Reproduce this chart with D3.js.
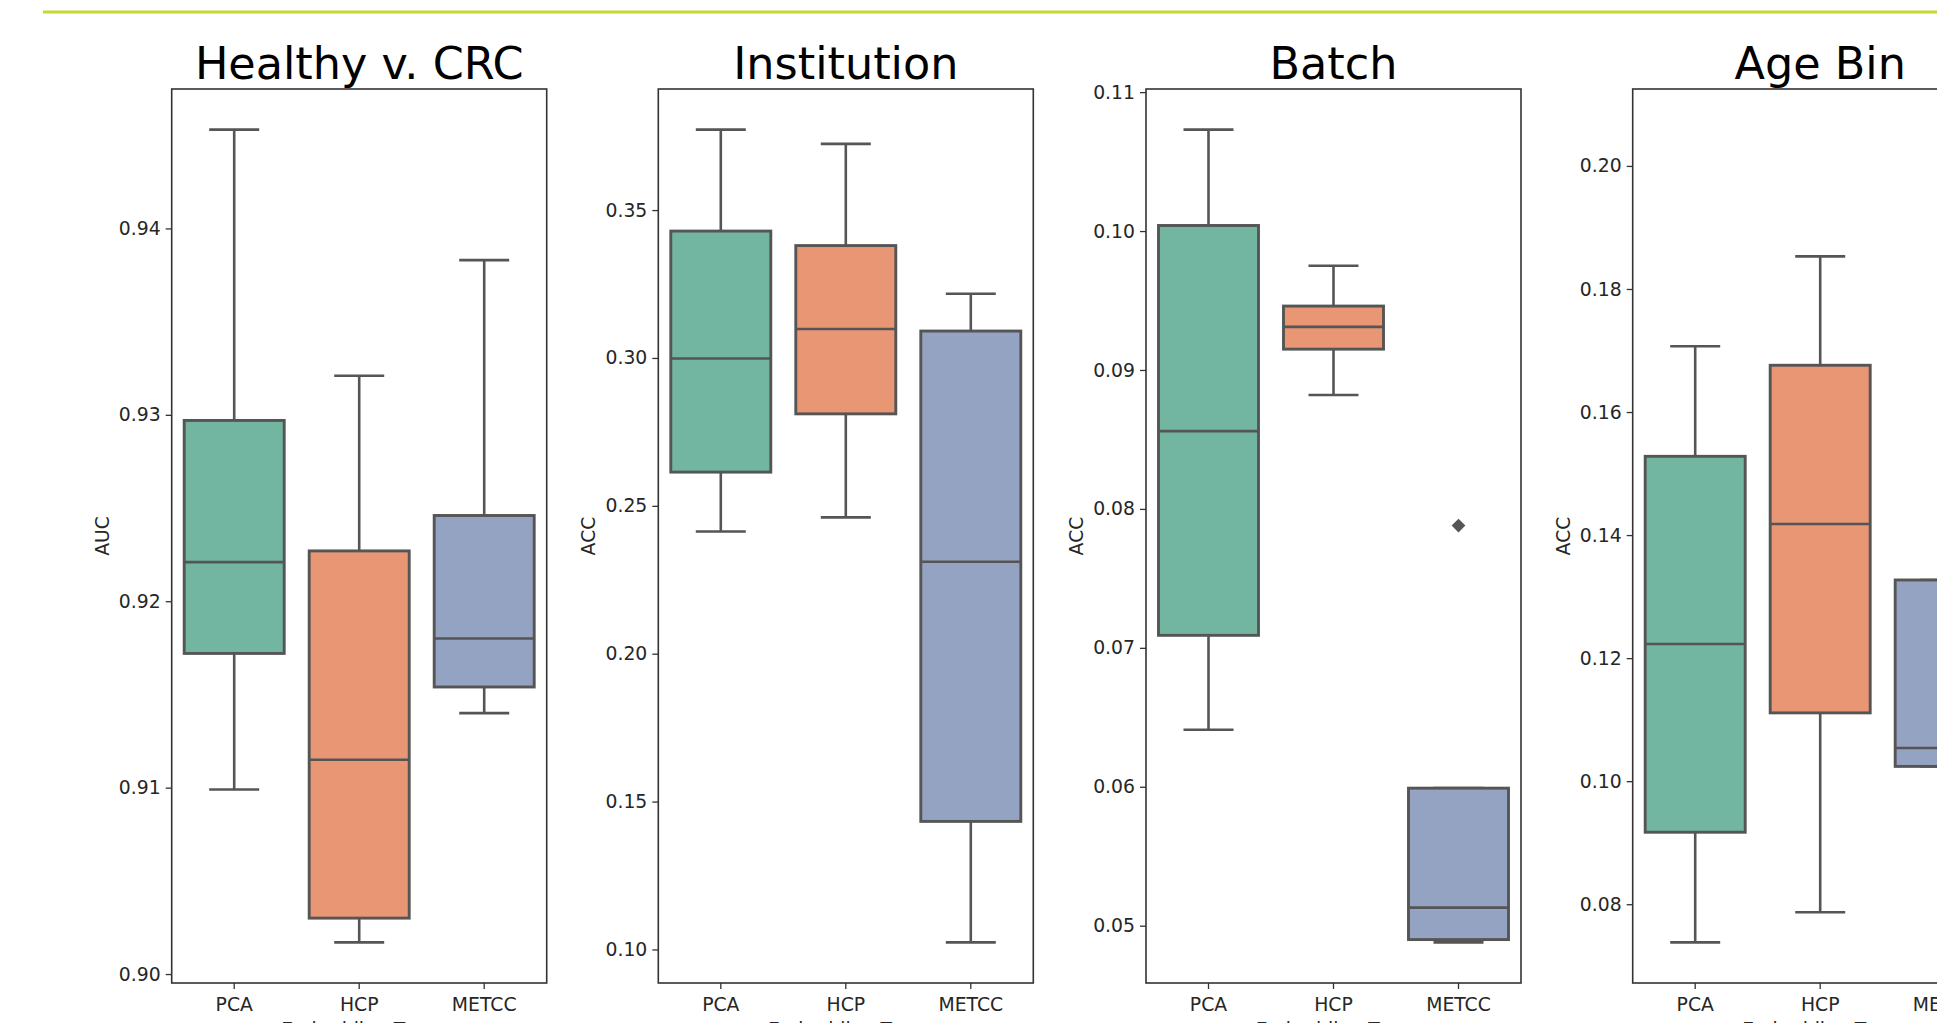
<!DOCTYPE html>
<html>
<head>
<meta charset="utf-8">
<script src="https://cdn.jsdelivr.net/npm/d3@7"></script>
<style>
  html, body { margin: 0; padding: 0; background: #fff; overflow: hidden; }
  svg { display: block; font-family: "DejaVu Sans", sans-serif; }
</style>
</head>
<body>
<svg id="chart" width="1937" height="1023"></svg>
<script>
// ---- data ----
const categories = ["PCA", "HCP", "METCC"];
const panelTitles = ["Healthy v. CRC", "Institution", "Batch", "Age Bin"];
const yLabels = ["AUC", "ACC", "ACC", "ACC"];
const xLabel = "Embedding Type";

// box stats per panel: [whiskerLow, q1, median, q3, whiskerHigh] for PCA, HCP, METCC
const healthyStats = [
  [0.9099, 0.9172, 0.9221, 0.9297, 0.9453],
  [0.9017, 0.9030, 0.9115, 0.9227, 0.9321],
  [0.9140, 0.9154, 0.9180, 0.9246, 0.9383]
];
const institutionStats = [
  [0.2413, 0.2614, 0.2998, 0.3429, 0.3772],
  [0.2461, 0.2811, 0.3098, 0.3380, 0.3724],
  [0.1024, 0.1433, 0.2311, 0.3091, 0.3217]
];
const batchStats = [
  [0.0641, 0.0709, 0.0856, 0.1004, 0.1073],
  [0.0882, 0.0915, 0.0931, 0.0946, 0.0975],
  [0.0488, 0.0490, 0.0513, 0.0599, 0.0599]
];
const ageStats = [
  [0.0738, 0.0917, 0.1223, 0.1528, 0.1707],
  [0.0787, 0.1111, 0.1418, 0.1676, 0.1853],
  [0.1024, 0.1024, 0.1054, 0.1327, 0.1327]
];
// outliers per panel: [categoryIndex, value]
const healthyOutliers = [];
const institutionOutliers = [];
const batchOutliers = [[2, 0.0788]];
const ageOutliers = [[2, 0.2059]];

const healthyTicks = [0.90, 0.91, 0.92, 0.93, 0.94];
const institutionTicks = [0.10, 0.15, 0.20, 0.25, 0.30, 0.35];
const batchTicks = [0.05, 0.06, 0.07, 0.08, 0.09, 0.10, 0.11];
const ageTicks = [0.08, 0.10, 0.12, 0.14, 0.16, 0.18, 0.20];

const colors = ["#72b6a1", "#e99675", "#95a3c3"];

// ---- layout ----
const svg = d3.select("#chart");
const panelLefts = [171.7, 658.3, 1146, 1632.7];
const panelW = 375, plotTop = 89, plotBottom = 983;
const lineColor = "#555555";
const stats = [healthyStats, institutionStats, batchStats, ageStats];
const outliers = [healthyOutliers, institutionOutliers, batchOutliers, ageOutliers];
const ticks = [healthyTicks, institutionTicks, batchTicks, ageTicks];

// top accent line
svg.append("line").attr("x1", 43).attr("x2", 1937).attr("y1", 12).attr("y2", 12)
  .attr("stroke", "#c6d82f").attr("stroke-width", 3);

stats.forEach((st, p) => {
  const g = svg.append("g").attr("transform", `translate(${panelLefts[p]},0)`);
  const allVals = st.flat().concat(outliers[p].map(o => o[1]));
  const mn = d3.min(allVals), mx = d3.max(allVals), pad = (mx - mn) * 0.05;
  const y = d3.scaleLinear().domain([mn - pad, mx + pad]).range([plotBottom, plotTop]);
  const x = d3.scaleBand().domain(categories).range([0, panelW])
    .paddingInner(0.2).paddingOuter(0.1);
  const bw = x.bandwidth();

  // boxes
  categories.forEach((c, i) => {
    const [wl, q1, med, q3, wh] = st[i];
    const cx = x(c) + bw / 2;
    const bg = g.append("g");
    bg.append("line").attr("x1", cx).attr("x2", cx).attr("y1", y(q3)).attr("y2", y(wh))
      .attr("stroke", lineColor).attr("stroke-width", 2.6);
    bg.append("line").attr("x1", cx).attr("x2", cx).attr("y1", y(q1)).attr("y2", y(wl))
      .attr("stroke", lineColor).attr("stroke-width", 2.6);
    bg.append("line").attr("x1", cx - bw / 4).attr("x2", cx + bw / 4).attr("y1", y(wh)).attr("y2", y(wh))
      .attr("stroke", lineColor).attr("stroke-width", 2.6);
    bg.append("line").attr("x1", cx - bw / 4).attr("x2", cx + bw / 4).attr("y1", y(wl)).attr("y2", y(wl))
      .attr("stroke", lineColor).attr("stroke-width", 2.6);
    bg.append("rect").attr("x", x(c)).attr("y", y(q3)).attr("width", bw).attr("height", y(q1) - y(q3))
      .attr("fill", colors[i]).attr("stroke", lineColor).attr("stroke-width", 2.9);
    bg.append("line").attr("x1", x(c)).attr("x2", x(c) + bw).attr("y1", y(med)).attr("y2", y(med))
      .attr("stroke", lineColor).attr("stroke-width", 2.6);
  });

  // outliers (diamonds)
  outliers[p].forEach(([ci, v]) => {
    const cx = x(categories[ci]) + bw / 2;
    g.append("path").attr("d", d3.symbol(d3.symbolDiamond2, 120)())
      .attr("transform", `translate(${cx},${y(v)})`)
      .attr("fill", lineColor);
  });

  // axes
  const yAxis = d3.axisLeft(y).tickValues(ticks[p]).tickFormat(d3.format(".2f")).tickSize(6).tickPadding(5);
  const ya = g.append("g").call(yAxis);
  const xAxis = d3.axisBottom(x).tickSize(6).tickPadding(9);
  const xa = g.append("g").attr("transform", `translate(0,${plotBottom})`).call(xAxis);
  [ya, xa].forEach(a => {
    a.select(".domain").remove();
    a.selectAll(".tick line").attr("stroke", "#333").attr("stroke-width", 1.3);
    a.selectAll(".tick text").attr("fill", "#262626").style("font-size", "18.8px")
      .style("font-family", "'DejaVu Sans', sans-serif");
  });

  // frame
  g.append("rect").attr("x", 0).attr("y", plotTop).attr("width", panelW).attr("height", plotBottom - plotTop)
    .attr("fill", "none").attr("stroke", "#333").attr("stroke-width", 1.6);

  // title
  g.append("text").attr("x", panelW / 2).attr("y", 79).attr("text-anchor", "middle")
    .style("font-size", "44.5px").attr("fill", "#000").text(panelTitles[p]);

  // y label
  g.append("text").attr("transform", `translate(-63,${(plotTop + plotBottom) / 2}) rotate(-90)`)
    .attr("text-anchor", "middle").style("font-size", "18.8px").attr("fill", "#262626")
    .text(yLabels[p]);

  // x label (cut off by the bottom edge, as in the source figure)
  g.append("text").attr("x", panelW / 2).attr("y", 1036).attr("text-anchor", "middle")
    .style("font-size", "18.8px").attr("fill", "#262626").text(xLabel);
});
</script>
</body>
</html>
